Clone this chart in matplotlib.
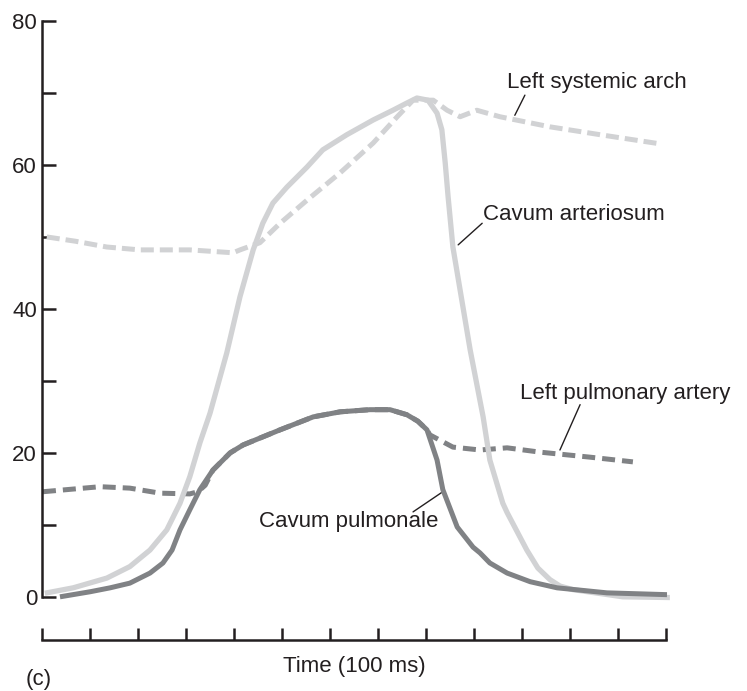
import matplotlib
matplotlib.use("Agg")
import matplotlib.pyplot as plt

plt.rcParams['font.family'] = ['Liberation Sans', 'DejaVu Sans']

# time in ticks (0..13), pressure values
arch_t = [0.1, 0.7, 1.35, 2.04, 3.08, 3.98, 4.125, 4.54, 4.96, 5.52, 6.21, 6.9, 7.4, 7.73,
          8.15, 8.44, 8.71, 9.06, 9.54, 10.58, 11.63, 12.81]
arch_p = [50.0, 49.4, 48.6, 48.2, 48.2, 47.8, 48.2, 49.2, 51.9, 55.1, 58.9, 63.05, 66.7, 69.0,
          69.0, 67.6, 66.7, 67.6, 66.7, 65.3, 64.2, 63.0]

arter_t = [0.06, 0.65, 1.35, 1.83, 2.25, 2.6, 2.875, 3.08, 3.29, 3.5, 3.85, 4.125, 4.4,
           4.6, 4.81, 5.1, 5.52, 5.85, 6.35, 6.9, 7.31, 7.6, 7.81, 8.04, 8.23, 8.33, 8.4,
           8.46, 8.56, 8.92, 9.19, 9.33, 9.6, 9.69, 10.1, 10.33, 10.58, 10.79, 11.06,
           12.1, 13.08]
arter_p = [0.5, 1.25, 2.6, 4.2, 6.5, 9.3, 13.0, 16.7, 21.4, 25.5, 33.9, 41.7, 48.2,
           51.9, 54.7, 56.9, 59.7, 62.1, 64.2, 66.25, 67.6, 68.6, 69.3, 69.0, 67.2, 64.9, 60.3,
           55.6, 48.6, 34.3, 25.0, 19.0, 13.0, 11.7, 6.5, 4.0, 2.4, 1.5, 1.0,
           0.0, -0.1]

pulmo_t = [0.375, 1.0, 1.42, 1.83, 2.25, 2.52, 2.71, 2.875, 3.08, 3.29, 3.56, 3.92, 4.19,
           4.96, 5.65, 6.21, 6.83, 7.25, 7.6, 7.83, 8.02, 8.23, 8.35, 8.65, 8.98, 9.125,
           9.33, 9.69, 10.17, 10.73, 11.77, 13.02]
pulmo_p = [0.0, 0.7, 1.25, 1.9, 3.3, 4.7, 6.5, 9.3, 12.1, 14.9, 17.6, 20.0, 21.1,
           23.2, 25.0, 25.7, 26.0, 26.0, 25.3, 24.4, 23.2, 19.0, 14.9, 9.7, 6.9, 6.1,
           4.7, 3.3, 2.1, 1.25, 0.55, 0.3]

lpa_t = [0.02, 1.21, 1.83, 2.46, 3.08, 3.25, 3.4, 3.56, 3.92, 4.19, 4.96, 5.65, 6.21,
         6.83, 7.25, 7.6, 7.83, 8.02, 8.08, 8.56, 9.125, 9.69, 10.375, 11.42, 12.31]
lpa_p = [14.6, 15.3, 15.1, 14.4, 14.3, 14.6, 15.5, 17.6, 20.0, 21.1, 23.2, 25.0, 25.7,
         26.0, 26.0, 25.3, 24.4, 23.2, 22.5, 20.8, 20.4, 20.7, 20.1, 19.4, 18.75]

x_ticks = list(range(14))
y_ticks = [0, 10, 20, 30, 40, 50, 60, 70, 80]
y_labels = ['0', '', '20', '', '40', '', '60', '', '80']

light = '#d1d2d4'
dark = '#808285'
ink = '#231f20'
fs = 16

fig = plt.figure(figsize=(7.47, 6.91), dpi=100)
ax = fig.add_axes([0.0562, 0.0738, 0.8354, 0.8958])

ax.plot(arch_t, arch_p, color=light, lw=3.6, dashes=(2.6, 1.2), dash_capstyle='butt',
        clip_on=False, zorder=2)
ax.plot(lpa_t, lpa_p, color=dark, lw=3.6, dashes=(2.6, 1.4), dash_capstyle='butt',
        clip_on=False, zorder=2)
ax.plot(arter_t, arter_p, color=light, lw=3.8, solid_capstyle='butt',
        solid_joinstyle='round', clip_on=False, zorder=3)
ax.plot(pulmo_t, pulmo_p, color=dark, lw=3.6, solid_capstyle='butt',
        solid_joinstyle='round', clip_on=False, zorder=4)

ax.set_xlim(0, 13)
ax.set_ylim(-6, 80)
for s in ['top', 'right']:
    ax.spines[s].set_visible(False)
ax.spines['left'].set_bounds(0, 80)
ax.spines['bottom'].set_bounds(0, 13)
for s in ['left', 'bottom']:
    ax.spines[s].set_linewidth(1.8)
    ax.spines[s].set_color(ink)

ax.set_xticks(x_ticks)
ax.set_xticklabels([])
ax.set_yticks(y_ticks)
ax.set_yticklabels(y_labels)
ax.tick_params(axis='x', direction='in', length=9, width=1.8, color=ink)
ax.tick_params(axis='y', direction='in', length=10, width=1.8, color=ink, pad=3.5,
               labelsize=fs, labelcolor=ink)
ax.set_xlabel('Time (100 ms)', fontsize=fs, color=ink, labelpad=8)

# curve labels with leader lines
lead = dict(arrowstyle='-', lw=1.0, color=ink, shrinkA=0, shrinkB=0)
ax.annotate('', xy=(9.85, 66.9), xytext=(10.06, 69.7), arrowprops=lead)
ax.text(9.69, 71.4, 'Left systemic arch', fontsize=fs, color=ink, va='center', ha='left')
ax.annotate('', xy=(8.67, 48.9), xytext=(9.17, 51.9), arrowprops=lead)
ax.text(9.19, 53.05, 'Cavum arteriosum', fontsize=fs, color=ink, va='center', ha='left')
ax.annotate('', xy=(10.79, 20.4), xytext=(11.21, 26.7), arrowprops=lead)
ax.text(9.96, 28.3, 'Left pulmonary artery', fontsize=fs, color=ink, va='center', ha='left')
ax.annotate('', xy=(8.35, 14.6), xytext=(7.73, 11.8), arrowprops=lead)
ax.text(8.25, 10.4, 'Cavum pulmonale', fontsize=fs, color=ink, va='center', ha='right')

fig.text(26 / 747, 1 - 680 / 691, '(c)', fontsize=fs, color=ink, va='center', ha='left')

plt.savefig('out.png', dpi=100)
plt.close()
